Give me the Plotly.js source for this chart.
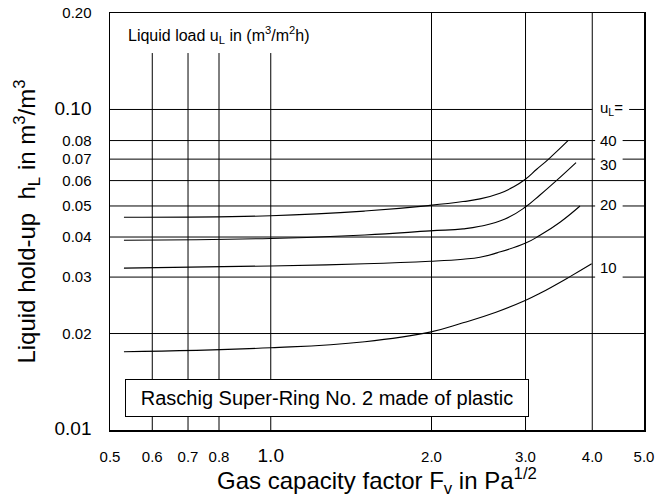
<!DOCTYPE html>
<html>
<head>
<meta charset="utf-8">
<script src="https://cdn.plot.ly/plotly-3.0.1.min.js"></script>
<style>html,body{margin:0;padding:0;background:#fff;}#chart{width:659px;height:498px;}</style>
</head>
<body>
<div id="chart"></div>
<script>
// ---- Data ----
var x10 = [0.531, 1.0, 1.50, 1.987, 2.291, 2.641, 3.002, 3.193, 3.634, 3.990];
var y10 = [0.01755, 0.01806, 0.01886, 0.0202, 0.0216, 0.0233, 0.0254, 0.0267, 0.0301, 0.0330];

var x20 = [0.531, 1.0, 1.50, 1.987, 2.291, 2.465, 2.653, 3.002, 3.193, 3.481, 3.794];
var y20 = [0.0320, 0.0325, 0.0330, 0.0336, 0.0341, 0.0346, 0.0357, 0.0383, 0.0405, 0.0445, 0.0500];

var x30 = [0.531, 1.0, 1.50, 1.987, 2.291, 2.465, 2.746, 3.002, 3.193, 3.431, 3.730];
var y30 = [0.0391, 0.0396, 0.0406, 0.0418, 0.0424, 0.0432, 0.0455, 0.0497, 0.0541, 0.0601, 0.0683];

var x40 = [0.531, 1.0, 1.50, 1.987, 2.291, 2.465, 2.687, 2.846, 3.002, 3.148, 3.310, 3.603];
var y40 = [0.0461, 0.0466, 0.0482, 0.0502, 0.0516, 0.0526, 0.0548, 0.0573, 0.0607, 0.0651, 0.0699, 0.0799];

var loadLabels = ['10', '20', '30', '40'];
var loadLabelY = [0.03, 0.05, 0.07, 0.08];

var xTickVals = [0.5, 0.6, 0.7, 0.8, 1.0, 2.0, 3.0, 4.0, 5.0];
var xTickText = ['0.5', '0.6', '0.7', '0.8', '1.0', '2.0', '3.0', '4.0', '5.0'];
var yTickVals = [0.01, 0.02, 0.03, 0.04, 0.05, 0.06, 0.07, 0.08, 0.10, 0.20];
var yTickText = ['0.01', '0.02', '0.03', '0.04', '0.05', '0.06', '0.07', '0.08', '0.10', '0.20'];

var xGridShort = [0.6, 0.7, 0.8, 1.0];
var xGridFull = [2.0, 3.0, 4.0];
var yGridFull = [0.02, 0.04, 0.06];
var yGridBroken = [0.03, 0.05, 0.07, 0.08];

// ---- Styling helpers ----
var FONT = 'Arial, "Liberation Sans", Helvetica, sans-serif';
var bigTicksX = ['1.0'];
var bigTicksY = ['0.01', '0.10'];
function big(t, size) { return '<span style="font-size:' + size + 'px">' + t + '</span>'; }

var curveStyle = {color: '#000', width: 1.1, shape: 'spline', smoothing: 1.3};
function curve(x, y, name) {
  return {x: x, y: y, name: name, type: 'scatter', mode: 'lines', line: curveStyle, hoverinfo: 'skip'};
}
var traces = [curve(x10, y10, '10'), curve(x20, y20, '20'), curve(x30, y30, '30'), curve(x40, y40, '40')];

var shapes = [];
function hline(y, xa, xb) {
  shapes.push({type: 'line', xref: 'x', yref: 'y', x0: xa, x1: xb, y0: y, y1: y, layer: 'below',
               line: {color: '#000', width: 1}});
}
function vline(x, ya, yb) {
  shapes.push({type: 'line', xref: 'x', yref: 'y', x0: x, x1: x, y0: ya, y1: yb, layer: 'below',
               line: {color: '#000', width: 1}});
}
xGridShort.forEach(function (v) { vline(v, 0.01, 0.15); });
xGridFull.forEach(function (v) { vline(v, 0.01, 0.2); });
yGridFull.forEach(function (v) { hline(v, 0.5, 5.0); });
yGridBroken.forEach(function (v) { hline(v, 0.5, 4.05); hline(v, 4.56, 5.0); });
hline(0.10, 0.5, 4.0); hline(0.10, 4.69, 5.0);

var annotations = [
  {text: 'Liquid load u<sub>L</sub> in (m<sup>3</sup>/m<sup>2</sup>h)', xref: 'paper', yref: 'paper',
   x: 0.030, y: 0.947, xanchor: 'left', yanchor: 'middle', showarrow: false, font: {family: FONT, size: 16, color: '#000'}},
  {text: 'u<sub>L</sub>=', xref: 'paper', yref: 'y', x: 0.939, y: Math.log10(0.10), xanchor: 'center', yanchor: 'middle',
   yshift: 1, showarrow: false, font: {family: FONT, size: 15, color: '#000'}},
  {text: 'Raschig Super-Ring No. 2 made of plastic', xref: 'paper', yref: 'paper', x: 0.406, y: 0.076,
   xanchor: 'center', yanchor: 'middle', showarrow: false, bgcolor: '#fff', bordercolor: '#000', borderwidth: 1,
   borderpad: 4, width: 394, height: 28, font: {family: FONT, size: 20, color: '#000'}}
];
var labelShift = {'10': 10, '20': 1, '30': -5, '40': 0};
loadLabels.forEach(function (t, i) {
  annotations.push({text: t, xref: 'paper', yref: 'y', x: 0.933, y: Math.log10(loadLabelY[i]),
    xanchor: 'center', yanchor: 'middle', yshift: labelShift[t], showarrow: false,
    font: {family: FONT, size: 15, color: '#000'}});
});

var layout = {
  width: 659, height: 498,
  margin: {l: 110, r: 15, t: 13, b: 68, pad: 0},
  paper_bgcolor: '#fff', plot_bgcolor: '#fff',
  showlegend: false,
  font: {family: FONT, color: '#000'},
  xaxis: {
    type: 'log', range: [Math.log10(0.5), Math.log10(5.0)],
    tickmode: 'array', tickvals: xTickVals,
    ticktext: xTickText.map(function (t) { return bigTicksX.indexOf(t) >= 0 ? big(t, 19) : t; }),
    tickfont: {family: FONT, size: 15, color: '#000'},
    ticks: '', ticklabelstandoff: 12,
    showgrid: false, zeroline: false,
    showline: true, mirror: true, linecolor: '#000', linewidth: 1.5,
    title: {text: 'Gas capacity factor F<sub>v</sub> in Pa<sup>1/2</sup>', font: {family: FONT, size: 24, color: '#000'}, standoff: 2}
  },
  yaxis: {
    type: 'log', range: [-2, Math.log10(0.2)],
    tickmode: 'array', tickvals: yTickVals,
    ticktext: yTickText.map(function (t) { return bigTicksY.indexOf(t) >= 0 ? big(t, 19) : t; }),
    tickfont: {family: FONT, size: 15, color: '#000'},
    ticks: '', ticklabelstandoff: 14,
    showgrid: false, zeroline: false,
    showline: true, mirror: true, linecolor: '#000', linewidth: 1.5,
    title: {text: 'Liquid hold-up&nbsp; h<sub>L</sub> in m<sup>3</sup>/m<sup>3</sup>', font: {family: FONT, size: 24, color: '#000'}, standoff: 12}
  },
  shapes: shapes,
  annotations: annotations
};

Plotly.newPlot('chart', traces, layout, {displayModeBar: false, staticPlot: true});
</script>
</body>
</html>
